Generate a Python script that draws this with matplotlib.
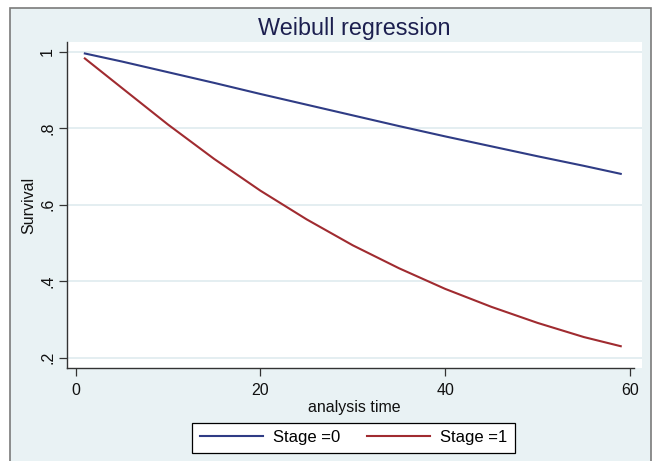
import matplotlib.pyplot as plt
from matplotlib.patches import Rectangle

plt.rcParams['font.family'] = ['Liberation Sans', 'DejaVu Sans']

# values
time = [1, 5, 10, 15, 20, 25, 30, 35, 40, 45, 50, 55, 59]
stage0 = [0.996, 0.975, 0.947, 0.919, 0.890, 0.862, 0.834, 0.806, 0.779, 0.753, 0.727, 0.702, 0.681]
stage1 = [0.983, 0.906, 0.810, 0.720, 0.637, 0.562, 0.494, 0.434, 0.380, 0.333, 0.291, 0.254, 0.230]
xticks = [0, 20, 40, 60]
yticks = [0.2, 0.4, 0.6, 0.8, 1.0]
ytick_labels = ['.2', '.4', '.6', '.8', '1']

W, H = 655, 461
bg = '#e9f2f4'
grid_col = '#e2edf0'
blue = '#2f3c85'
red = '#a02b30'

fig = plt.figure(figsize=(W / 100, H / 100), dpi=100)
fig.patch.set_facecolor('white')

# outer graph region with grey border
fig.patches.append(Rectangle((10 / W, -0.05), 641 / W, 1 - 8 / H + 0.05,
                             transform=fig.transFigure, facecolor=bg,
                             edgecolor='#7a7a7a', linewidth=1.2, zorder=-10))

ax = fig.add_axes([67 / W, (H - 368) / H, 575 / W, 326 / H])
ax.set_facecolor('white')

ax.plot(time, stage0, color=blue, lw=1.5, label='Stage =0')
ax.plot(time, stage1, color=red, lw=1.5, label='Stage =1')

ax.set_xlim(-0.93, 61.3)
ax.set_ylim(0.173, 1.026)
ax.set_xticks(xticks)
ax.set_yticks(yticks)
ax.set_yticklabels(ytick_labels, rotation=90, va='center')

for y in yticks:
    ax.axhline(y, color=grid_col, lw=1.3, zorder=0)

for s in ['top', 'right']:
    ax.spines[s].set_visible(False)
for s in ['left', 'bottom']:
    ax.spines[s].set_color('#333333')
    ax.spines[s].set_linewidth(1.0)
ax.spines['bottom'].set_bounds(-0.93, 60.4)

ax.tick_params(axis='both', direction='out', length=5.5, width=0.9,
               color='#333333', labelsize=11.5, labelcolor='#111111')
ax.tick_params(axis='x', pad=5)
ax.tick_params(axis='y', pad=3)

ax.set_xlabel('analysis time', fontsize=11.5, labelpad=2, color='#111111')
ax.set_ylabel('Survival', fontsize=11.5, labelpad=3, color='#111111')
fig.text(354 / W, 1 - 28 / H, 'Weibull regression', ha='center', va='center',
         fontsize=16.8, color='#1c1f4f')

leg = fig.legend(loc='center', bbox_to_anchor=(353.5 / W, 23.5 / H), ncol=2,
                 fontsize=12, frameon=True, fancybox=False, framealpha=1,
                 edgecolor='black', handlelength=3.8, columnspacing=1.6,
                 handletextpad=0.6, borderpad=0.45)
leg.get_frame().set_linewidth(0.9)

fig.savefig('out.png', dpi=100)
